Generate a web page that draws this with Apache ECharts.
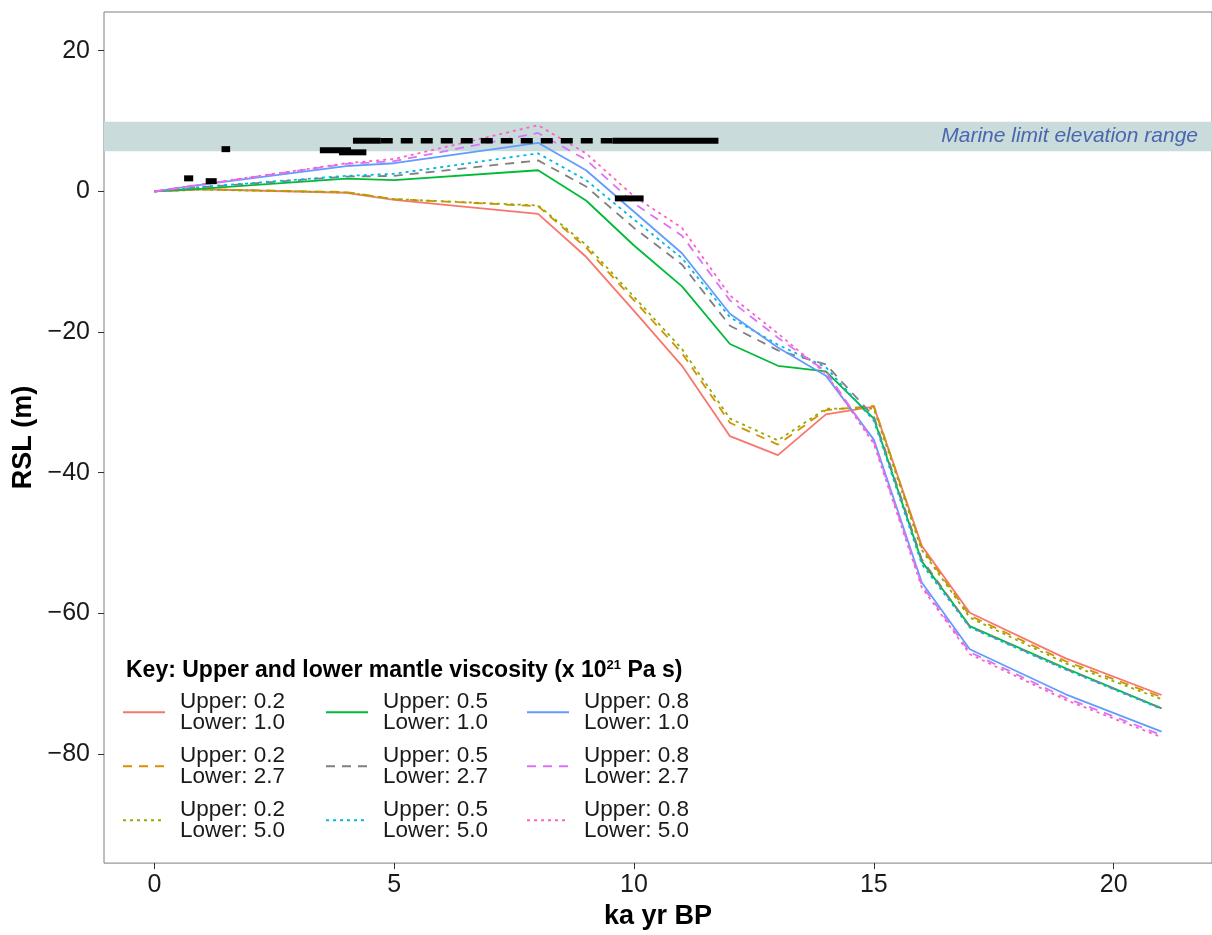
<!DOCTYPE html>
<html>
<head>
<meta charset="utf-8">
<script src="https://cdn.jsdelivr.net/npm/echarts@6/dist/echarts.min.js"></script>
<style>
html,body{margin:0;padding:0;background:#fff;}
#chart{width:1212px;height:935px;}
</style>
</head>
<body>
<div id="chart"></div>
<script>
// ---------------- data ----------------
const times = [0, 1, 4, 5, 8, 9, 10, 11, 12, 13, 14, 15, 16, 17, 19, 21];

const u02l10 = [0, 0.3, -0.2, -1.2, -3.2, -9.3, -17.0, -24.8, -34.8, -37.5, -31.7, -30.6, -50.4, -59.9, -66.4, -71.6];
const u02l27 = [0, 0.3, -0.1, -1.1, -2.1, -8.0, -15.5, -23.0, -32.9, -36.0, -31.1, -30.5, -50.7, -60.3, -66.8, -71.9];
const u02l50 = [0, 0.25, -0.15, -1.1, -2.0, -7.6, -15.0, -22.4, -32.3, -35.4, -30.9, -30.9, -51.0, -60.6, -67.1, -72.2];
const u05l10 = [0, 0.4, 1.8, 1.6, 3.0, -1.3, -7.7, -13.5, -21.7, -24.8, -25.6, -32.3, -52.6, -61.8, -67.8, -73.5];
const u05l27 = [0, 0.6, 2.1, 2.2, 4.4, 0.7, -5.2, -10.4, -19.1, -22.6, -24.6, -32.0, -52.3, -61.9, -67.9, -73.5];
const u05l50 = [0, 0.65, 2.2, 2.5, 5.4, 1.6, -4.0, -9.5, -17.9, -21.8, -25.0, -32.6, -53.0, -62.0, -68.0, -73.6];
const u08l10 = [0, 0.95, 3.6, 4.0, 6.9, 3.0, -2.9, -8.8, -17.4, -22.2, -26.2, -35.3, -55.6, -65.1, -71.5, -76.8];
const u08l27 = [0, 1.0, 3.9, 4.3, 8.3, 4.5, -1.7, -6.3, -15.5, -20.8, -25.6, -35.6, -56.0, -65.5, -72.0, -77.3];
const u08l50 = [0, 1.0, 4.0, 4.6, 9.4, 5.4, -0.7, -5.2, -14.8, -20.2, -25.9, -35.9, -56.3, -65.8, -72.3, -77.6];

const seriesNames = [
  'Upper: 0.2\nLower: 1.0', 'Upper: 0.2\nLower: 2.7', 'Upper: 0.2\nLower: 5.0',
  'Upper: 0.5\nLower: 1.0', 'Upper: 0.5\nLower: 2.7', 'Upper: 0.5\nLower: 5.0',
  'Upper: 0.8\nLower: 1.0', 'Upper: 0.8\nLower: 2.7', 'Upper: 0.8\nLower: 5.0'
];
const seriesValues = [u02l10, u02l27, u02l50, u05l10, u05l27, u05l50, u08l10, u08l27, u08l50];

// observations: [age start, age end, RSL]
const obsBars = [
  [0.62, 0.81, 1.85],
  [1.07, 1.30, 1.45],
  [1.40, 1.58, 6.0],
  [3.45, 4.10, 5.85],
  [3.85, 4.42, 5.55],
  [4.14, 4.72, 7.2],
  [9.55, 11.76, 7.2],
  [9.60, 10.20, -1.0]
];
const obsDashed = [[4.72, 9.55, 7.2]];

// marine limit band [lower, upper]
const marineLimit = [5.7, 9.9];
const bandLabel = 'Marine limit elevation range';

const xTicks = [0, 5, 10, 15, 20];
const yTicks = [-80, -60, -40, -20, 0, 20];
const xName = 'ka yr BP';
const yName = 'RSL (m)';

// ---------------- styles ----------------
const colors = ['#F8766D', '#D39200', '#93AA00', '#00BA38', '#808080', '#00B9E3', '#619CFF', '#DB72FB', '#FF61C3'];
const dashes = ['solid', [9, 7], [3, 4]];
const FONT = '"Liberation Sans", Arial, Helvetica, sans-serif';

const lineSeries = seriesNames.map((name, i) => ({
  name: name,
  type: 'line',
  z: 3,
  symbol: 'none',
  showSymbol: false,
  silent: true,
  data: times.map((t, j) => [t, seriesValues[i][j]]),
  lineStyle: { color: colors[i], width: 1.8, type: dashes[i % 3] },
  itemStyle: { color: colors[i] }
}));

const minus = v => (v < 0 ? '\u2212' + Math.abs(v) : String(v));

const legendBase = {
  orient: 'vertical',
  top: 685,
  itemWidth: 42,
  itemHeight: 14,
  itemGap: 9.5,
  selectedMode: false,
  itemStyle: { opacity: 0 },
  textStyle: { fontFamily: FONT, fontSize: 22.5, lineHeight: 21.5, color: '#1a1a1a', padding: [0, 0, 0, 10] }
};

const option = {
  animation: false,
  backgroundColor: '#ffffff',
  grid: { left: 104, right: -8, top: 12, bottom: 71, show: true, borderColor: '#7f7f7f', borderWidth: 1, backgroundColor: 'transparent' },
  title: {
    left: 121, top: 654,
    text: '{b|Key: Upper and lower mantle viscosity (x 10}{s|21}{b| Pa s)}',
    textStyle: {
      rich: {
        b: { fontFamily: FONT, fontWeight: 'bold', fontSize: 23, color: '#000' },
        s: { fontFamily: FONT, fontWeight: 'bold', fontSize: 13, color: '#000', padding: [0, 0, 10, 0] }
      }
    }
  },
  legend: [
    Object.assign({}, legendBase, { left: 117, data: seriesNames.slice(0, 3) }),
    Object.assign({}, legendBase, { left: 320, data: seriesNames.slice(3, 6) }),
    Object.assign({}, legendBase, { left: 521, data: seriesNames.slice(6, 9) })
  ],
  xAxis: {
    type: 'value', min: -1.05, max: 22.05,
    name: xName, nameLocation: 'middle', nameGap: 33,
    nameTextStyle: { fontFamily: FONT, fontWeight: 'bold', fontSize: 27, color: '#000' },
    axisLine: { show: false, onZero: false },
    axisTick: { show: true, inside: false, length: 6, lineStyle: { color: '#333', width: 1 }, customValues: xTicks },
    axisLabel: { fontFamily: FONT, fontSize: 25, color: '#1a1a1a', margin: 10, customValues: xTicks, formatter: minus },
    splitLine: { show: false }
  },
  yAxis: {
    type: 'value', min: -95.5, max: 25.5,
    name: yName, nameLocation: 'middle', nameGap: 66, nameRotate: 90,
    nameTextStyle: { fontFamily: FONT, fontWeight: 'bold', fontSize: 27, color: '#000' },
    axisLine: { show: false, onZero: false },
    axisTick: { show: true, inside: false, length: 6, lineStyle: { color: '#333', width: 1 }, customValues: yTicks },
    axisLabel: { fontFamily: FONT, fontSize: 25, color: '#1a1a1a', margin: 14, customValues: yTicks, formatter: minus },
    splitLine: { show: false }
  },
  series: [
    {
      name: 'band', type: 'line', z: 1, silent: true, symbol: 'none',
      data: [[times[0], marineLimit[0]]],
      lineStyle: { opacity: 0 },
      markArea: {
        silent: true,
        itemStyle: { color: '#c9dcdb' },
        label: {
          show: true, position: 'insideRight', distance: 14,
          fontFamily: FONT, fontStyle: 'italic', fontSize: 21, color: '#4a66ae'
        },
        data: [[{ yAxis: marineLimit[0], name: bandLabel }, { yAxis: marineLimit[1] }]]
      }
    },
    ...lineSeries,
    {
      name: 'obs', type: 'custom', z: 5, silent: true,
      encode: { x: [0, 1], y: 2 },
      data: obsBars,
      renderItem: function (params, api) {
        const p0 = api.coord([api.value(0), api.value(2)]);
        const p1 = api.coord([api.value(1), api.value(2)]);
        const h = 6;
        return { type: 'rect', shape: { x: p0[0], y: p0[1] - h / 2, width: p1[0] - p0[0], height: h }, style: { fill: '#000' } };
      }
    },
    {
      name: 'obsDashed', type: 'custom', z: 5, silent: true,
      encode: { x: [0, 1], y: 2 },
      data: obsDashed,
      renderItem: function (params, api) {
        const p0 = api.coord([api.value(0), api.value(2)]);
        const p1 = api.coord([api.value(1), api.value(2)]);
        return { type: 'line', shape: { x1: p0[0], y1: p0[1], x2: p1[0], y2: p1[1] }, style: { stroke: '#000', lineWidth: 5.5, lineDash: [12, 8] } };
      }
    }
  ]
};

const chart = echarts.init(document.getElementById('chart'));
chart.setOption(option);
</script>
</body>
</html>
